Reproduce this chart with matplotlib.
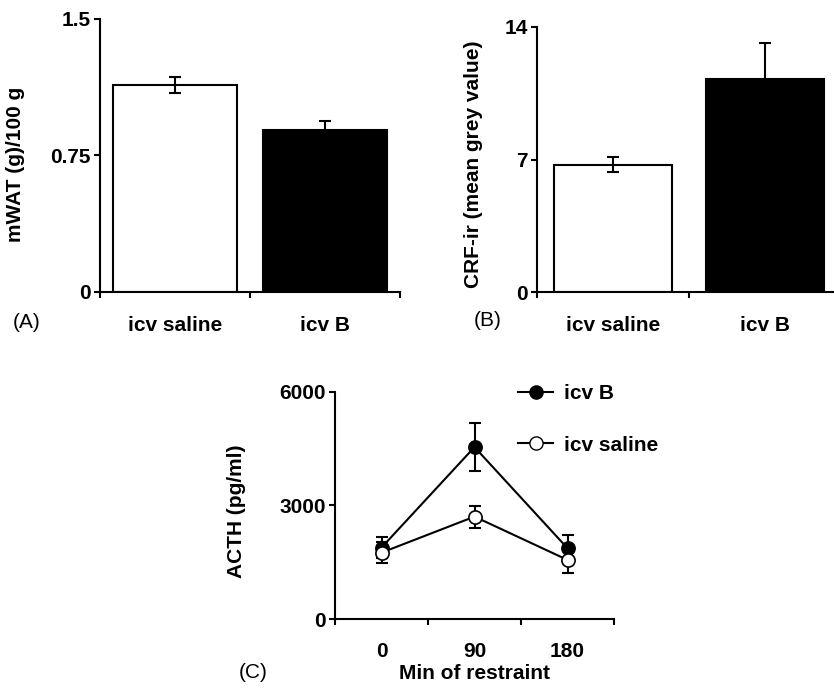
import matplotlib
matplotlib.use("Agg")
import matplotlib.pyplot as plt
from matplotlib.lines import Line2D
import numpy as np

plt.rcParams['font.family'] = ['Liberation Sans', 'DejaVu Sans']
plt.rcParams['font.size'] = 15

# (A) mesenteric white adipose tissue
groups = ['icv saline', 'icv B']
mwat_mean = [1.137, 0.89]
mwat_sem = [0.046, 0.05]

# (B) CRF immunoreactivity
crf_mean = [6.74, 11.27]
crf_sem = [0.40, 1.88]

# (C) ACTH during restraint
restraint_min = ['0', '90', '180']
acth_b = [1890, 4540, 1873]
acth_b_sem = [270, 640, 360]
acth_saline = [1757, 2707, 1565]
acth_saline_sem = [280, 290, 350]

LW = 1.5
fig = plt.figure(figsize=(8.34, 6.89), dpi=100)


def style_axes(ax, xpad=17):
    for side in ['top', 'right']:
        ax.spines[side].set_visible(False)
    for side in ['left', 'bottom']:
        ax.spines[side].set_linewidth(LW)
    ax.tick_params(axis='y', which='major', direction='out', length=4.5, width=LW, pad=2)
    ax.tick_params(axis='x', which='major', direction='out', length=4.5, width=LW, labelbottom=False)
    ax.tick_params(axis='x', which='minor', length=0, pad=xpad)
    for lab in ax.get_yticklabels() + ax.get_xticklabels(minor=True):
        lab.set_fontweight('bold')


def bar_panel(ax, means, sems, width, ylim, yticks, yticklabels, ylabel):
    pos = np.arange(len(means)) + 0.5
    ax.bar(pos, means, width=width, color=['white', 'black'], edgecolor='black',
           linewidth=LW, zorder=2)
    ax.errorbar(pos, means, yerr=sems, fmt='none', ecolor='black', elinewidth=LW,
                capsize=4.5, capthick=LW, zorder=3)
    ax.set_xlim(0, len(means))
    ax.set_ylim(*ylim)
    ax.set_xticks(np.arange(len(means) + 1))
    ax.set_xticks(pos, minor=True)
    ax.set_xticklabels(groups, minor=True)
    ax.set_yticks(yticks)
    ax.set_yticklabels(yticklabels)
    ax.set_ylabel(ylabel, fontweight='bold')
    style_axes(ax)


# panel A
axA = fig.add_axes([100 / 834, 1 - 292 / 689, 300 / 834, 273 / 689])
bar_panel(axA, mwat_mean, mwat_sem, 0.83, (0, 1.5), [0, 0.75, 1.5], ['0', '0.75', '1.5'],
          'mWAT (g)/100 g')
axA.yaxis.set_label_coords(-0.25, 0.467)

# panel B (right edge runs past the figure)
axB = fig.add_axes([537 / 834, 1 - 292.3 / 689, 304 / 834, 265.3 / 689])
bar_panel(axB, crf_mean, crf_sem, 0.78, (0, 14), [0, 7, 14], ['0', '7', '14'],
          'CRF-ir (mean grey value)')
axB.yaxis.set_label_coords(-0.178, 0.481)

# panel C
axC = fig.add_axes([335 / 834, 1 - 619.3 / 689, 279 / 834, 227.6 / 689])
xc = np.arange(len(restraint_min)) + 0.5
axC.errorbar(xc, acth_b, yerr=acth_b_sem, fmt='none', ecolor='black', elinewidth=LW,
             capsize=4.5, capthick=LW, zorder=2)
axC.plot(xc, acth_b, color='black', lw=LW, marker='o', ms=9.5, mfc='black', mec='black',
         mew=1.2, zorder=3)
axC.errorbar(xc, acth_saline, yerr=acth_saline_sem, fmt='none', ecolor='black',
             elinewidth=LW, capsize=4.5, capthick=LW, zorder=4)
axC.plot(xc, acth_saline, color='black', lw=LW, marker='o', ms=9.5, mfc='white',
         mec='black', mew=1.2, zorder=5)
axC.set_xlim(0, 3)
axC.set_ylim(0, 6000)
axC.set_xticks([0, 1, 2, 3])
axC.set_xticks(xc, minor=True)
axC.set_xticklabels(restraint_min, minor=True)
axC.set_yticks([0, 3000, 6000])
axC.set_xlabel('Min of restraint', fontweight='bold', va='center')
axC.xaxis.set_label_coords(0.5, -0.24)
axC.set_ylabel('ACTH (pg/ml)', fontweight='bold')
axC.yaxis.set_label_coords(-0.319, 0.473)
style_axes(axC, xpad=16)

handles = [
    Line2D([], [], color='black', lw=LW, marker='o', ms=9.5, mfc='black', mec='black'),
    Line2D([], [], color='black', lw=LW, marker='o', ms=9.5, mfc='white', mec='black'),
]
leg = fig.legend(handles, ['icv B', 'icv saline'], loc='upper left', frameon=False,
                 bbox_to_anchor=(518 / 834, 1 - 384.5 / 689), borderaxespad=0, borderpad=0,
                 handlelength=1.7, handletextpad=0.5, labelspacing=1.55)
for t in leg.get_texts():
    t.set_fontweight('bold')

# panel letters
fig.text(26.5 / 834, 1 - 322 / 689, '(A)', ha='center', va='center')
fig.text(488 / 834, 1 - 320 / 689, '(B)', ha='center', va='center')
fig.text(253 / 834, 1 - 672 / 689, '(C)', ha='center', va='center')

fig.savefig('out.png', dpi=100)
